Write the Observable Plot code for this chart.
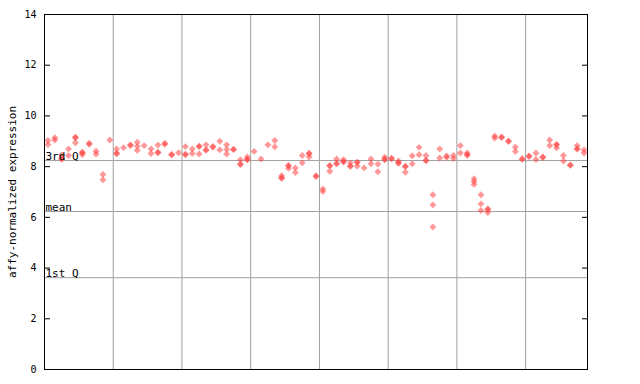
<!DOCTYPE html>
<html>
<head>
<meta charset="utf-8">
<script src="https://cdn.jsdelivr.net/npm/d3@7"></script>
<script src="https://cdn.jsdelivr.net/npm/@observablehq/plot@0.6"></script>
<style>
  html, body { margin: 0; padding: 0; background: #fff; }
</style>
</head>
<body>
<div id="chart"></div>
<script>
// replicate expression values per sample (79 samples)
const sampleValues = [
  [9.03, 8.87], [9.14, 9.05], [8.46, 8.31, 8.29], [8.70, 8.44], [9.16, 9.14, 8.94],
  [8.57, 8.55, 8.48], [8.92, 8.88], [8.61, 8.50], [7.69, 7.48], [9.05],
  [8.70, 8.53, 8.51], [8.75], [8.86, 8.83], [8.96, 8.80, 8.64], [8.83],
  [8.70, 8.52], [8.85, 8.57, 8.55], [8.92, 8.88], [8.49, 8.46], [8.55],
  [8.79, 8.49, 8.47], [8.70, 8.52], [8.81, 8.79, 8.50], [8.86, 8.67, 8.64], [8.80, 8.76],
  [9.00, 8.66], [8.86, 8.68, 8.50], [8.69, 8.67], [8.27, 8.10, 8.08], [8.38, 8.29, 8.27],
  [8.60], [8.30], [8.86], [9.03, 8.78], [7.64, 7.56, 7.54],
  [8.05, 8.03, 7.93], [7.95, 7.77], [8.44, 8.15], [8.53, 8.51, 8.38], [7.64, 7.61],
  [7.12, 7.02], [8.05, 8.03, 7.82], [8.30, 8.13, 8.11], [8.27, 8.20, 8.18], [8.15, 8.03, 8.01],
  [8.18, 8.16, 8.02], [7.95], [8.30, 8.11], [8.10, 7.80], [8.37, 8.29, 8.27],
  [8.33, 8.31], [8.22, 8.15, 8.13], [8.02, 8.00, 7.78], [8.43, 8.11], [8.76, 8.47],
  [8.44, 8.25, 8.23], [6.89, 6.49, 5.62], [8.70, 8.34], [8.42, 8.37], [8.44, 8.32],
  [8.83, 8.54], [8.54, 8.47, 8.45], [7.52, 7.41, 7.30], [6.89, 6.53, 6.27], [6.33, 6.31, 6.19],
  [9.21, 9.13], [9.17, 9.15], [9.01, 8.99], [8.77, 8.60], [8.31, 8.29],
  [8.42, 8.40], [8.54, 8.28], [8.38, 8.36], [9.05, 8.83], [8.88, 8.86, 8.74],
  [8.44, 8.22], [8.07, 8.05], [8.83, 8.71, 8.69], [8.66, 8.54]
];
const quartileLabels = ["3rd Q", "mean", "1st Q"];
const quartileValues = [8.24, 6.23, 3.62];
const yTicks = [0, 2, 4, 6, 8, 10, 12, 14];
const groupBreaks = [10, 20, 30, 40, 50, 60, 70];
const yLabel = "affy-normalized expression";

const nSamples = sampleValues.length;
const points = sampleValues.flatMap((vals, i) => vals.map(v => ({i: i + 0.5, v})));
const quartiles = quartileLabels.map((label, k) => ({label, v: quartileValues[k]}));

const mono = "DejaVu Sans Mono, monospace";

const chart = Plot.plot({
  width: 640,
  height: 384,
  marginLeft: 44,
  marginRight: 53,
  marginTop: 14,
  marginBottom: 15,
  style: {fontFamily: mono, fontSize: "10px", background: "#fff"},
  x: {domain: [0, nSamples], axis: null},
  y: {domain: [0, 14], axis: null},
  marks: [
    Plot.ruleX(groupBreaks, {stroke: "#a0a0a0", strokeWidth: 1}),
    Plot.ruleY(quartileValues, {stroke: "#a0a0a0", strokeWidth: 1}),
    Plot.dot(points, {x: "i", y: "v", symbol: "diamond2", r: 3.1, fill: "#ff4444", fillOpacity: 0.55, stroke: "none"}),
    Plot.text(quartiles, {x: 0, y: "v", text: "label", textAnchor: "start", lineAnchor: "bottom", dx: 1, dy: -1, fontSize: 11, fontFamily: mono, fill: "black"}),
    // left axis ticks (inward) and labels
    Plot.ruleY(yTicks, {y: d => d, x1: 0, x2: 0, insetRight: -6, stroke: "black"}),
    Plot.ruleY(yTicks, {y: d => d, x1: nSamples, x2: nSamples, insetLeft: -5, stroke: "black"}),
    Plot.text(yTicks, {x: 0, y: d => d, text: d => String(d), textAnchor: "end", dx: -8, fontSize: 10, fontFamily: mono, fill: "black"}),
    Plot.text([yLabel], {frameAnchor: "left", textAnchor: "middle", dx: -32, rotate: -90, text: d => d, fontSize: 11, fontFamily: mono, fill: "black"}),
    Plot.frame({stroke: "black", strokeWidth: 1})
  ]
});
document.getElementById("chart").appendChild(chart);
</script>
</body>
</html>
